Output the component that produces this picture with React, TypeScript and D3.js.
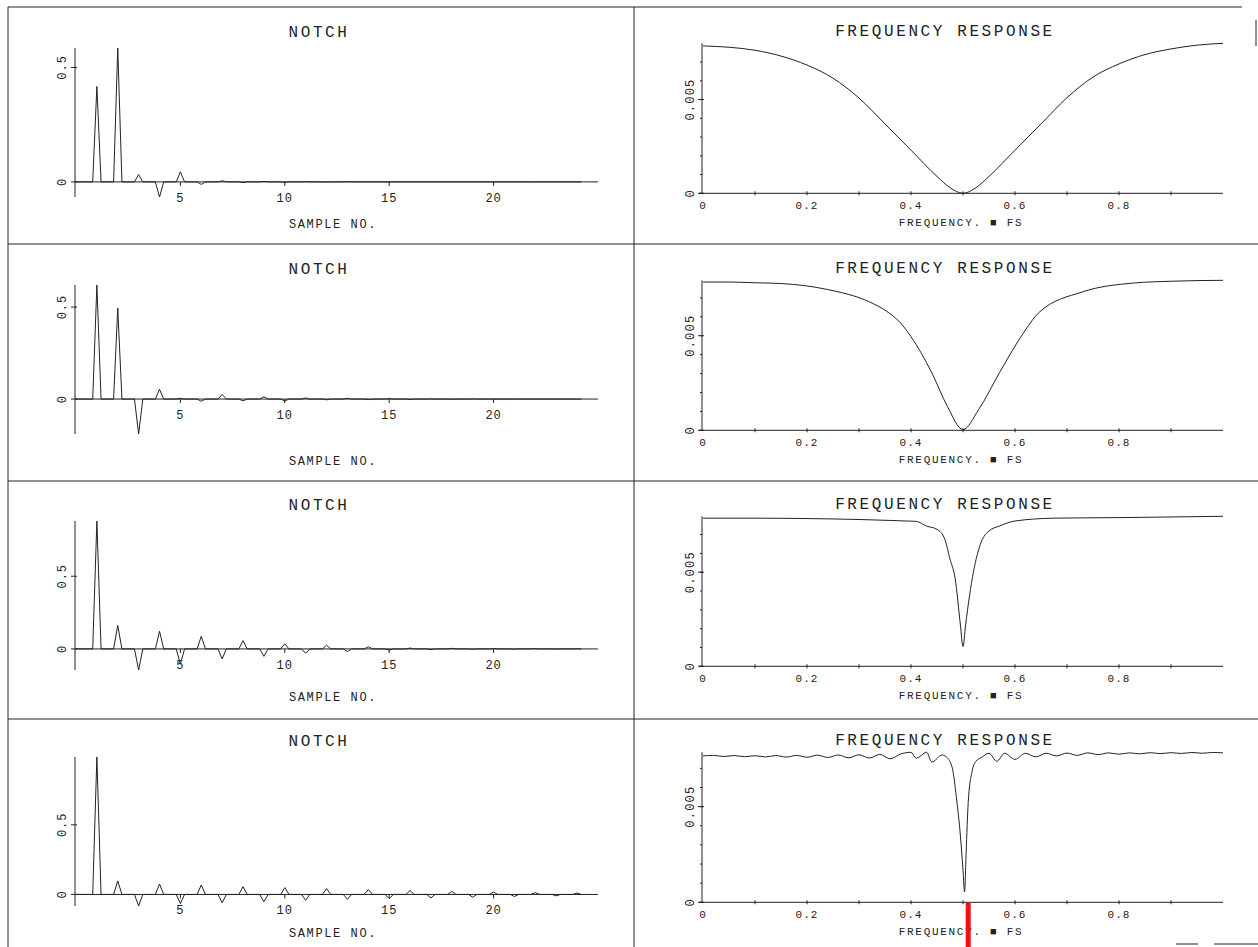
import React from "react";
import * as d3 from "d3";

const W = 1258;
const H = 947;
const rowOffsets = [0, 237, 473, 709];
const FONT = "'Liberation Mono', 'DejaVu Sans Mono', monospace";
const INK = "#222";

// impulse responses, sample 0..24
const sampleNo = d3.range(25);
const impulse1 = [0, 0.417, 0.585, 0.032, -0.066, 0.044, -0.011, 0.005, -0.003, 0.002, -0.002, 0.001, -0.001, 0.001, 0, 0, 0, 0, 0, 0, 0, 0, 0, 0, 0];
const impulse2 = [0, 0.62, 0.495, -0.19, 0.053, 0.004, -0.012, 0.025, -0.01, 0.012, -0.01, 0.006, -0.004, 0.004, -0.003, 0.002, -0.002, 0.001, -0.001, 0.001, 0, 0, 0, 0, 0];
const impulse3 = [0, 0.88, 0.161, -0.145, 0.122, -0.104, 0.087, -0.069, 0.057, -0.051, 0.035, -0.03, 0.025, -0.018, 0.015, -0.008, 0.006, -0.005, 0.004, -0.003, 0.003, -0.002, 0.002, -0.001, 0.001];
const impulse4 = [0, 0.987, 0.097, -0.083, 0.075, -0.066, 0.068, -0.06, 0.056, -0.053, 0.049, -0.042, 0.042, -0.035, 0.035, -0.03, 0.028, -0.025, 0.022, -0.02, 0.018, -0.015, 0.013, -0.01, 0.01];
const impulses = [impulse1, impulse2, impulse3, impulse4];

// frequency responses (frequency * fs, magnitude)
const freq1 = [0, 0.05, 0.1, 0.15, 0.2, 0.25, 0.3, 0.35, 0.4, 0.45, 0.475, 0.5, 0.525, 0.55, 0.6, 0.65, 0.7, 0.75, 0.8, 0.85, 0.9, 0.95, 1.0];
const mag1 = [0.00786, 0.00779, 0.00763, 0.00732, 0.00684, 0.00614, 0.00508, 0.0037, 0.0023, 0.0009, 0.0003, 0.0, 0.0003, 0.0009, 0.0023, 0.0037, 0.0051, 0.0062, 0.0069, 0.0074, 0.0077, 0.0079, 0.008];

const freq2 = [0, 0.05, 0.1, 0.15, 0.24, 0.32, 0.35, 0.38, 0.4, 0.44, 0.47, 0.5, 0.53, 0.57, 0.62, 0.645, 0.73, 0.83, 0.9, 1.0];
const mag2 = [0.00784, 0.00784, 0.0078, 0.00776, 0.00744, 0.00679, 0.00635, 0.00567, 0.00495, 0.00304, 0.00126, 0.00004, 0.00109, 0.00304, 0.0053, 0.0062, 0.00732, 0.00779, 0.00788, 0.00793];

const freq3 = [0, 0.1, 0.2, 0.3, 0.36, 0.39, 0.41, 0.43, 0.45, 0.465, 0.475, 0.485, 0.495, 0.5, 0.505, 0.52, 0.535, 0.55, 0.57, 0.6, 0.675, 0.8, 1.0];
const mag3 = [0.00787, 0.00787, 0.00785, 0.0078, 0.00775, 0.00772, 0.0077, 0.00745, 0.00728, 0.00675, 0.0057, 0.00465, 0.0022, 0.00105, 0.0022, 0.005, 0.0066, 0.00719, 0.00745, 0.00772, 0.00787, 0.0079, 0.00797];

const freq4 = [0, 0.02, 0.04, 0.06, 0.08, 0.1, 0.12, 0.14, 0.16, 0.18, 0.2, 0.22, 0.24, 0.26, 0.28, 0.3, 0.32, 0.34, 0.36, 0.38, 0.4, 0.41, 0.43, 0.44, 0.46, 0.47, 0.48, 0.487, 0.494, 0.5, 0.503, 0.506, 0.51, 0.517, 0.525, 0.535, 0.55, 0.565, 0.58, 0.6, 0.62, 0.64, 0.66, 0.68, 0.7, 0.72, 0.74, 0.76, 0.78, 0.8, 0.82, 0.84, 0.86, 0.88, 0.9, 0.92, 0.94, 0.96, 0.98, 1.0];
const mag4 = [0.00765, 0.00768, 0.00762, 0.00767, 0.00761, 0.00766, 0.0076, 0.00767, 0.00759, 0.00768, 0.00758, 0.00769, 0.00757, 0.0077, 0.00755, 0.00771, 0.00754, 0.00773, 0.0075, 0.00775, 0.00784, 0.00753, 0.00784, 0.00733, 0.0077, 0.00755, 0.00695, 0.00554, 0.00379, 0.00168, 0.00054, 0.00258, 0.00521, 0.00679, 0.00738, 0.00756, 0.00779, 0.00737, 0.00779, 0.00747, 0.00779, 0.0076, 0.00779, 0.00765, 0.0078, 0.00768, 0.00781, 0.00772, 0.00781, 0.00774, 0.00781, 0.00776, 0.00782, 0.00777, 0.00782, 0.00778, 0.00783, 0.00779, 0.00783, 0.00781];

const freqs = [freq1, freq2, freq3, freq4];
const mags = [mag1, mag2, mag3, mag4];

const sampleTicks = [5, 10, 15, 20];
const freqTicks = [0, 0.2, 0.4, 0.6, 0.8];
const markerFreq = 0.51;

const NotchPanel = ({ values, base }: { values: number[]; base: number }) => {
  const x = d3.scaleLinear().domain([0, 25]).range([76, 598]);
  const [lo, hi] = d3.extent(values) as [number, number];
  const y = d3.scaleLinear().domain([lo, hi]).range([base + 189, base + 40]);
  const pts: [number, number][] = [];
  sampleNo.forEach((n) => {
    pts.push([Math.max(0, n - 0.2), 0], [n, values[n]], [n + 0.2, 0]);
  });
  const line = d3
    .line<[number, number]>()
    .x((d) => x(d[0]))
    .y((d) => y(d[1]));
  const y0 = y(0);
  const axX = x(0) - 1;
  return (
    <g>
      <text x={319} y={base + 29} textAnchor="middle" fontSize={16} letterSpacing={2.6}>
        NOTCH
      </text>
      {/* axes */}
      <line x1={axX} x2={axX} y1={y(hi)} y2={y(lo)} stroke={INK} />
      <line x1={axX} x2={x(25)} y1={y0} y2={y0} stroke={INK} />
      {[0, 0.5].map((t) => (
        <g key={t}>
          <line x1={axX - 4} x2={axX + 2} y1={y(t)} y2={y(t)} stroke={INK} />
          <text transform={`translate(${axX - 9},${y(t)}) rotate(-90)`} textAnchor="middle" fontSize={12} letterSpacing={1}>
            {t === 0 ? "0" : "0.5"}
          </text>
        </g>
      ))}
      {sampleTicks.map((t) => (
        <g key={t}>
          <line x1={x(t)} x2={x(t)} y1={y0} y2={y0 + 4} stroke={INK} />
          <text x={x(t)} y={y0 + 20} textAnchor="middle" fontSize={12} letterSpacing={1}>
            {t}
          </text>
        </g>
      ))}
      <path d={line(pts) || ""} fill="none" stroke={INK} strokeWidth={1} />
      <text x={333} y={base + 220} textAnchor="middle" fontSize={12} letterSpacing={1.6}>
        SAMPLE NO.
      </text>
    </g>
  );
};

const ResponsePanel = ({ f, m, base, marker }: { f: number[]; m: number[]; base: number; marker: boolean }) => {
  const x = d3.scaleLinear().domain([0, 1]).range([703, 1223]);
  const yMax = d3.max(m) as number;
  const zero = base + 185.3;
  const y = d3.scaleLinear().domain([0, yMax]).range([zero, zero - 150]);
  const pts = f.map((v, i) => [v, m[i]] as [number, number]);
  const line = d3
    .line<[number, number]>()
    .x((d) => x(d[0]))
    .y((d) => y(d[1]))
    .curve(d3.curveMonotoneX);
  const axX = x(0) - 1;
  const minor = d3.range(0, yMax, 0.001);
  return (
    <g>
      <text x={945} y={base + 28} textAnchor="middle" fontSize={16} letterSpacing={2.6}>
        FREQUENCY RESPONSE
      </text>
      <line x1={axX} x2={axX} y1={y(yMax)} y2={zero} stroke={INK} />
      <line x1={axX - 3} x2={x(1)} y1={zero} y2={zero} stroke={INK} />
      {minor.map((t, i) => (
        <line key={i} x1={axX - 2} x2={axX} y1={y(t)} y2={y(t)} stroke={INK} />
      ))}
      {[0, 0.005].map((t) => (
        <g key={t}>
          <line x1={axX - 4} x2={axX + 2} y1={y(t)} y2={y(t)} stroke={INK} />
          <text transform={`translate(${axX - 8},${y(t)}) rotate(-90)`} textAnchor="middle" fontSize={12} letterSpacing={1.2}>
            {t === 0 ? "0" : "0.005"}
          </text>
        </g>
      ))}
      {d3.range(1, 10).map((i) => (
        <line key={i} x1={x(i / 10)} x2={x(i / 10)} y1={zero - 2} y2={zero + 2} stroke={INK} />
      ))}
      {freqTicks.map((t) => (
        <text key={t} x={x(t)} y={zero + 16} textAnchor="middle" fontSize={11} letterSpacing={1}>
          {t === 0 ? "0" : t.toFixed(1)}
        </text>
      ))}
      <path d={line(pts) || ""} fill="none" stroke={INK} strokeWidth={1} />
      <text x={961} y={base + 218} textAnchor="middle" fontSize={11} letterSpacing={1.7}>
        FREQUENCY. ■ FS
      </text>
      {marker && <rect x={x(markerFreq) - 2.5} y={zero} width={5} height={H - zero} fill="#ee1111" />}
    </g>
  );
};

export default function App() {
  const seps = [244, 481, 719];
  return (
    <svg width={W} height={H} style={{ position: "absolute", left: 0, top: 0, background: "#fff" }} fontFamily={FONT} fill={INK}>
      <rect width={W} height={H} fill="#fff" />
      <line x1={8} x2={1242} y1={7} y2={7} stroke={INK} />
      {seps.map((s) => (
        <line key={s} x1={8} x2={W} y1={s} y2={s} stroke={INK} />
      ))}
      <line x1={8} x2={8} y1={7} y2={H} stroke={INK} />
      <line x1={634} x2={634} y1={7} y2={H} stroke={INK} />
      <line x1={1256} x2={1256} y1={20} y2={46} stroke={INK} />
      <line x1={1176} x2={1198} y1={944} y2={944} stroke={INK} />
      <line x1={1214} x2={W} y1={944} y2={944} stroke={INK} />
      {rowOffsets.map((off, i) => (
        <g key={i}>
          <NotchPanel values={impulses[i]} base={8 + off} />
          <ResponsePanel f={freqs[i]} m={mags[i]} base={8 + off} marker={i === 3} />
        </g>
      ))}
    </svg>
  );
}
